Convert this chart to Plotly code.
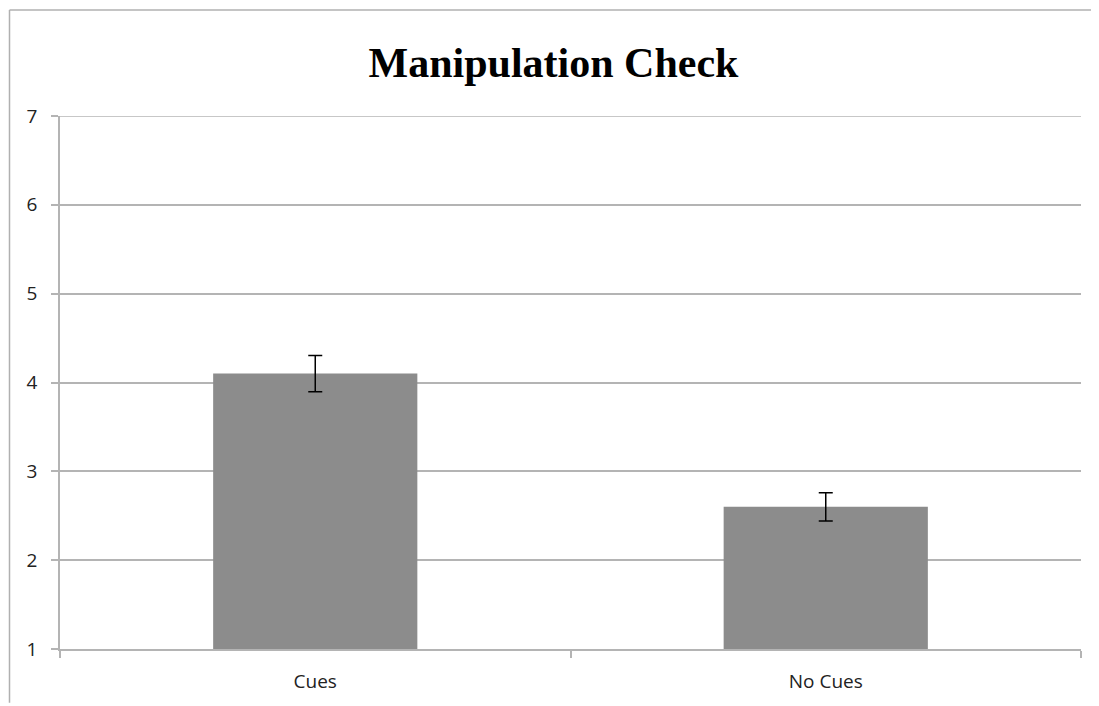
import plotly.graph_objects as go

categories = ["Cues", "No Cues"]
means = [4.1, 2.6]
errors = [0.205, 0.16]
y_ticks = [1, 2, 3, 4, 5, 6, 7]

OFF = 8  # browser body margin
W, H = 1099 - OFF, 706 - OFF
ML, MT = 60 - OFF, 116 - OFF
MR = W - (1081 - OFF)
MB = H - (652 - OFF)
pw = W - ML - MR
ph = H - MT - MB

fig = go.Figure()
fig.add_trace(go.Bar(
    x=categories, y=means,
    base=0,
    marker=dict(color="#8c8c8c", line=dict(width=0)),
    width=0.4,
    error_y=dict(type="data", array=errors, visible=True,
                 color="black", thickness=1.5, width=7),
))

grid = "#b4b4b4"
bx = (9.5 - OFF - ML) / pw
by = (H - (9.5 - OFF) - MB) / ph
fig.update_layout(
    width=W, height=H,
    margin=dict(l=ML, r=MR, t=MT, b=MB),
    paper_bgcolor="white", plot_bgcolor="white",
    showlegend=False,
    title=dict(text="<b>Manipulation Check</b>", x=0.5, xanchor="center",
               y=1 - (62 - OFF) / H, yanchor="middle",
               font=dict(family="Liberation Serif, Times New Roman, serif", size=42, color="black")),
    font=dict(family="Open Sans, Lato, sans-serif", size=18, color="#222"),
    xaxis=dict(showline=True, linecolor=grid, linewidth=1.5, ticks="outside",
               tickson="boundaries", ticklen=7, tickcolor=grid, tickwidth=1.5,
               showgrid=False, tickfont=dict(size=19), ticklabelstandoff=14),
    yaxis=dict(range=[1, 7], tickvals=y_ticks, showline=True, linecolor=grid,
               linewidth=1.5, ticks="outside", ticklen=7, tickcolor=grid, tickwidth=1.5,
               showgrid=True, gridcolor=grid, gridwidth=1.5, zeroline=False,
               tickfont=dict(size=19), ticklabelstandoff=10),
    shapes=[
        dict(type="line", xref="paper", yref="y",
             x0=0, x1=1, y0=y_ticks[-1], y1=y_ticks[-1],
             line=dict(color=grid, width=1.5), layer="below"),
        dict(type="line", xref="paper", yref="paper",
             x0=bx, x1=bx, y0=-MB / ph, y1=by,
             line=dict(color="#b0b0b0", width=1.5)),
        dict(type="line", xref="paper", yref="paper",
             x0=bx, x1=(W - ML) / pw, y0=by, y1=by,
             line=dict(color="#b0b0b0", width=1.5)),
    ],
)

fig.write_html("out.html")
